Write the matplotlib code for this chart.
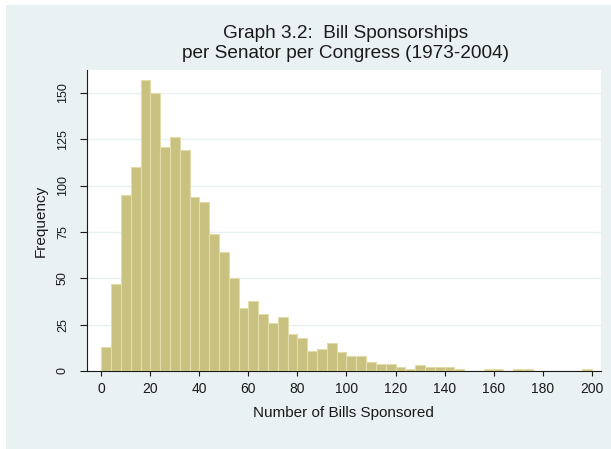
import numpy as np
import matplotlib
matplotlib.use("Agg")
import matplotlib.pyplot as plt
from matplotlib.patches import Rectangle

# Histogram of bills sponsored per senator per congress, bins of width 4
bin_start = 0
bin_width = 4
counts = [
    13, 47, 95, 110, 157, 150, 121, 126, 119, 94,
    91, 74, 64, 50, 34, 38, 31, 26, 29, 20,
    18, 11, 12, 15, 10, 8, 8, 5, 4, 4,
    2, 1, 3, 2, 2, 2, 1, 0, 0, 1,
    1, 0, 1, 1, 0, 0, 0, 0, 0, 1,
]
x_ticks = [0, 20, 40, 60, 80, 100, 120, 140, 160, 180, 200]
y_ticks = [0, 25, 50, 75, 100, 125, 150]
title_lines = ["Graph 3.2:  Bill Sponsorships",
               "per Senator per Congress (1973-2004)"]
x_label = "Number of Bills Sponsored"
y_label = "Frequency"

BG = "#EAF1F3"
FACE = "#C9C17F"
EDGE = "#E2DBAA"
INK = "#1a1a1a"

plt.rcParams["font.family"] = ["Liberation Sans", "DejaVu Sans"]

W, H = 611, 449
fig = plt.figure(figsize=(W / 100, H / 100), dpi=100, facecolor="white")
fig.patches.append(Rectangle((6 / W, 0), 1 - 6 / W, 1 - 5 / H,
                             transform=fig.transFigure, facecolor=BG,
                             edgecolor="none", zorder=-10))

ax = fig.add_axes([86.7 / W, 1 - 371 / H, (601 - 86.7) / W, (371 - 70) / H])
ax.set_facecolor("white")

edges = bin_start + bin_width * np.arange(len(counts) + 1)
ax.bar(edges[:-1], counts, width=bin_width, align="edge",
       facecolor=FACE, edgecolor=EDGE, linewidth=0.8, zorder=3)

ax.set_xlim(-5.96, 203.8)
ax.set_ylim(0, 162.3)
ax.set_xticks(x_ticks)
ax.set_yticks(y_ticks)
ax.yaxis.grid(True, color=BG, linewidth=1.0, zorder=0)
ax.set_axisbelow(True)

for side in ("top", "right"):
    ax.spines[side].set_visible(False)
for side in ("left", "bottom"):
    ax.spines[side].set_color(INK)
    ax.spines[side].set_linewidth(0.8)

ax.tick_params(axis="both", direction="out", color=INK, width=0.8,
               labelcolor=INK)
ax.tick_params(axis="x", length=3.8, pad=4.3, labelsize=10)
ax.tick_params(axis="y", length=4.8, pad=8.0, labelsize=9)
for lbl in ax.get_yticklabels():
    lbl.set_rotation(90)
    lbl.set_va("center")

ax.set_xlabel(x_label, fontsize=11, color=INK, va="center")
ax.xaxis.set_label_coords(0.5, (371 - 413) / (371 - 70))
ax.set_ylabel(y_label, fontsize=11, color=INK, va="center")
ax.yaxis.set_label_coords((40.7 - 86.7) / (601 - 86.7), 0.5)

# two-line title, each line on its own baseline
for line, base in zip(title_lines, (38.5, 58.5)):
    fig.text(346 / W, 1 - base / H, line, fontsize=13.7, color=INK,
             ha="center", va="baseline")

fig.savefig("out.png", dpi=100, facecolor="white")
